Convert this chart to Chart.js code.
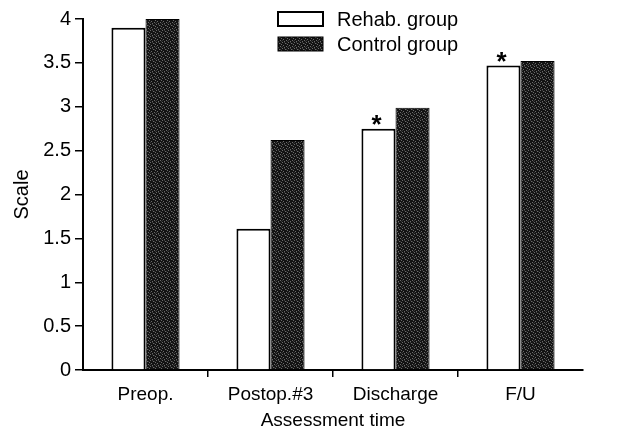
<!DOCTYPE html>
<html>
<head>
<meta charset="utf-8">
<script src="https://cdn.jsdelivr.net/npm/chart.js@4/dist/chart.umd.min.js"></script>
<style>
  html, body { margin: 0; padding: 0; background: #fff; }
  #wrap { width: 626px; height: 432px; position: relative; }
</style>
</head>
<body>
<div id="wrap"><canvas id="c" width="626" height="432"></canvas></div>
<script>
const categories = ['Preop.', 'Postop.#3', 'Discharge', 'F/U'];
const rehabValues = [3.9, 1.61, 2.75, 3.47];
const controlValues = [4.0, 2.62, 2.99, 3.52];
const significance = ['', '', '*', '*'];
const seriesLabels = ['Rehab. group', 'Control group'];
const yTicks = [0, 0.5, 1, 1.5, 2, 2.5, 3, 3.5, 4];

const FONT = '"Liberation Sans", Arial, Helvetica, sans-serif';

function makePattern() {
  const p = document.createElement('canvas');
  p.width = 6; p.height = 6;
  const g = p.getContext('2d');
  g.fillStyle = '#131313';
  g.fillRect(0, 0, 6, 6);
  g.fillStyle = '#6a6a6a';
  const pts = [[0,0],[3,1],[1,3],[4,4],[5,2],[2,5]];
  pts.forEach(([x, y]) => g.fillRect(x, y, 1, 1));
  g.fillStyle = '#383838';
  [[2,0],[5,5],[0,4],[4,1]].forEach(([x, y]) => g.fillRect(x, y, 1, 1));
  return document.getElementById('c').getContext('2d').createPattern(p, 'repeat');
}
const darkFill = makePattern();

const extrasPlugin = {
  id: 'extras',
  afterDatasetsDraw(chart) {
    const ctx = chart.ctx;
    ctx.save();
    // significance stars
    const meta = chart.getDatasetMeta(0);
    ctx.fillStyle = '#000';
    ctx.font = 'bold 26px ' + FONT;
    ctx.textAlign = 'center';
    ctx.textBaseline = 'alphabetic';
    significance.forEach((s, i) => {
      if (!s) return;
      const bar = meta.data[i];
      ctx.fillText(s, bar.x - 2, bar.y + 4);
    });
    // legend
    const lx = 278, bw = 45, bh = 14;
    const rows = [12, 37];
    chart.data.datasets.forEach((ds, i) => {
      const y = rows[i];
      ctx.fillStyle = ds.backgroundColor;
      ctx.fillRect(lx, y, bw, bh);
      ctx.lineWidth = ds.borderWidth;
      ctx.strokeStyle = '#000';
      ctx.strokeRect(lx, y, bw, bh);
      ctx.fillStyle = '#000';
      ctx.font = '20px ' + FONT;
      ctx.textAlign = 'left';
      ctx.textBaseline = 'middle';
      ctx.fillText(ds.label, lx + 59, y + bh / 2 + 1);
    });
    ctx.restore();
  }
};

new Chart(document.getElementById('c'), {
  type: 'bar',
  data: {
    labels: categories,
    datasets: [
      { label: seriesLabels[0], data: rehabValues, backgroundColor: '#ffffff', borderColor: '#000', borderWidth: 2 },
      { label: seriesLabels[1], data: controlValues, backgroundColor: darkFill, borderColor: '#000', borderWidth: 1 }
    ]
  },
  options: {
    responsive: false,
    animation: false,
    layout: { padding: { top: 19, right: 43, bottom: 0, left: 0 } },
    datasets: { bar: { categoryPercentage: 0.545, barPercentage: 1.0 } },
    plugins: { legend: { display: false }, tooltip: { enabled: false } },
    scales: {
      x: {
        offset: true,
        grid: {
          offset: true,
          drawOnChartArea: false,
          tickLength: 7,
          lineWidth: 1.5,
          color: (c) => (c.index === undefined || c.index === 0 || c.index >= categories.length) ? 'rgba(0,0,0,0)' : '#000'
        },
        border: { color: '#000', width: 2 },
        ticks: { color: '#000', font: { family: FONT, size: 19 }, padding: 6, maxRotation: 0 },
        title: { display: true, text: 'Assessment time', color: '#000', font: { family: FONT, size: 19 }, padding: { top: 0, bottom: 0 } },
        afterFit: (s) => { s.height = 62; }
      },
      y: {
        min: 0, max: 4,
        afterBuildTicks: (s) => { s.ticks = yTicks.map(v => ({ value: v })); },
        grid: { drawOnChartArea: false, tickLength: 8, color: '#000', lineWidth: 1.5 },
        border: { color: '#000', width: 2 },
        ticks: { color: '#000', font: { family: FONT, size: 20 }, padding: 4, callback: (v) => String(v) },
        title: { display: true, text: 'Scale', color: '#000', font: { family: FONT, size: 20 }, padding: { top: 10, bottom: 0 } },
        afterFit: (s) => { s.width = 83; }
      }
    }
  },
  plugins: [extrasPlugin]
});
</script>
</body>
</html>
